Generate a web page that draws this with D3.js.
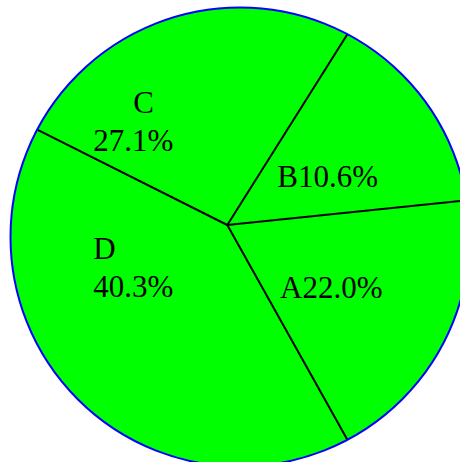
<!DOCTYPE html>
<html>
<head>
<meta charset="utf-8">
<script src="https://cdn.jsdelivr.net/npm/d3@7"></script>
<style>
  body { margin: 0; background: #fff; }
  svg { display: block; }
</style>
</head>
<body>
<div id="chart"></div>
<script>
// slice categories, in drawing order (counter-clockwise)
var categories = ["A", "B", "C", "D"];
// angular share of each wedge as drawn
var sliceValues = [19.8, 14.7, 25.0, 40.5];
// percentage text printed in each wedge
var percentLabels = ["22.0%", "10.6%", "27.1%", "40.3%"];

var width = 460, height = 462;
var cx = 240, cy = 237, radius = 229.5;   // outline circle
var px = 227.3, py = 225;                  // point the wedges meet at
var start = 152.1 * Math.PI / 180;
var font = "'Liberation Serif', 'Times New Roman', serif";

// label anchors, offset from the meeting point (x, baseline y, two lines or one)
var labelLayout = [
    { dx: 52.7, dy: 72.7, lines: 1 },
    { dx: 50, dy: -37.7, lines: 1 },
    { dx: -134, dy: -111.7, lines: 2, firstDx: 40 },
    { dx: -134, dy: 34.3, lines: 2, firstDx: 0 }
];

var svg = d3.select("#chart")
    .append("svg")
    .attr("width", width)
    .attr("height", height);

var pie = d3.pie()
    .sort(null)
    .startAngle(start)
    .endAngle(start - 2 * Math.PI);

var arcs = pie(sliceValues);

function edge(a) {
    return [cx + radius * Math.sin(a), cy - radius * Math.cos(a)];
}

// wedges
arcs.forEach(function(d, i) {
    var p0 = edge(d.startAngle);
    var p1 = edge(d.endAngle);
    var large = Math.abs(d.endAngle - d.startAngle) > Math.PI ? 1 : 0;
    var path = d3.path();
    path.moveTo(px, py);
    path.lineTo(p0[0], p0[1]);
    svg.append("path")
      .attr("d", path.toString() + " A" + radius + "," + radius + " 0 " + large + " 0 " + p1[0] + "," + p1[1] + " Z")
      .attr("fill", "#00ff00")
      .attr("stroke", "#00ff00")
      .attr("stroke-width", 0.5);
});

// wedge boundaries
arcs.forEach(function(d) {
    var p = edge(d.startAngle);
    svg.append("line")
      .attr("x1", px)
      .attr("y1", py)
      .attr("x2", p[0])
      .attr("y2", p[1])
      .attr("stroke", "black")
      .attr("stroke-width", 2);
});

// outline
svg.append("circle")
  .attr("cx", cx)
  .attr("cy", cy)
  .attr("r", radius)
  .attr("fill", "none")
  .attr("stroke", "#0000ff")
  .attr("stroke-width", 2);

// labels
function label(x, y, s) {
    svg.append("text")
      .attr("x", x)
      .attr("y", y)
      .attr("font-family", font)
      .attr("font-size", "31px")
      .attr("fill", "black")
      .text(s);
}

categories.forEach(function(c, i) {
    var L = labelLayout[i];
    var x = px + L.dx, y = py + L.dy;
    if (L.lines == 1) {
        label(x, y, c + percentLabels[i]);
    } else {
        label(x + L.firstDx, y, c);
        label(x, y + 37.5, percentLabels[i]);
    }
});
</script>
</body>
</html>
